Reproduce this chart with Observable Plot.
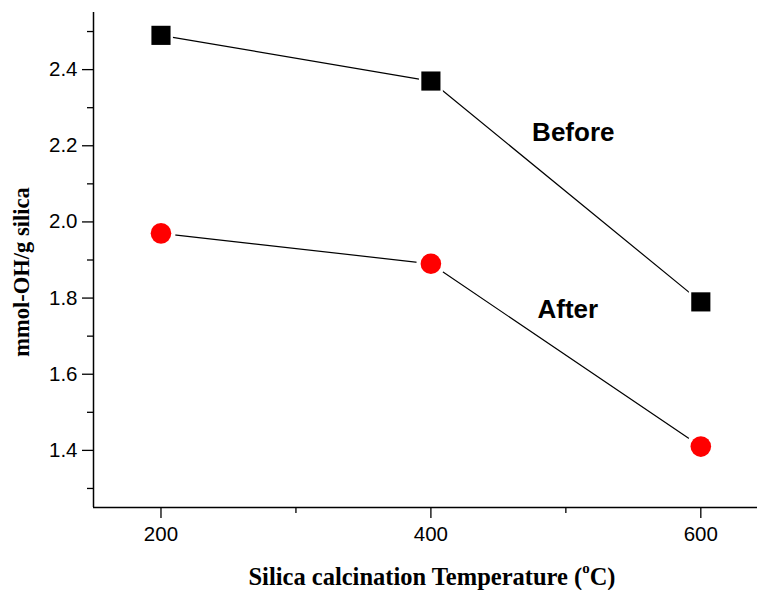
<!DOCTYPE html>
<html>
<head>
<meta charset="utf-8">
<script src="https://cdn.jsdelivr.net/npm/d3@7"></script>
<script src="https://cdn.jsdelivr.net/npm/@observablehq/plot@0.6"></script>
<style>
  html, body { margin: 0; padding: 0; background: #fff; }
</style>
</head>
<body>
<div id="chart"></div>
<script>
const temps = [200, 400, 600];
const before = [2.49, 2.37, 1.79];
const after = [1.97, 1.89, 1.41];
const xMajor = [200, 400, 600];
const xMinor = [300, 500];
const yMajor = [1.4, 1.6, 1.8, 2.0, 2.2, 2.4];
const yMinor = [1.3, 1.5, 1.7, 1.9, 2.1, 2.3, 2.5];
const seriesLabels = ["Before", "After"];
const labelX = [475, 479];
const labelY = [2.235, 1.77];
const xTitle = ["Silica calcination Temperature (", "o", "C)"];
const yTitle = "mmol-OH/g silica";

const dBefore = temps.map((t, i) => ({t, v: before[i]}));
const dAfter = temps.map((t, i) => ({t, v: after[i]}));
const labels = seriesLabels.map((s, i) => ({s, x: labelX[i], y: labelY[i]}));

const chart = Plot.plot({
  width: 757,
  height: 590,
  marginLeft: 93,
  marginTop: 12,
  marginRight: 0,
  marginBottom: 83,
  style: {fontFamily: "Arial, 'Liberation Sans', sans-serif", fontSize: "20px", background: "#fff", color: "#000"},
  x: {domain: [150, 642]},
  y: {domain: [1.25, 2.55]},
  marks: [
    Plot.ruleX([150], {stroke: "#000", strokeWidth: 1.5}),
    Plot.ruleY([1.25], {stroke: "#000", strokeWidth: 1.5}),
    Plot.axisY({ticks: yMajor, tickSize: 11, tickPadding: 5, tickFormat: d3.format(".1f"), label: null, strokeWidth: 1.3, fontSize: 20.5}),
    Plot.axisY({ticks: yMinor, tickSize: 6, tickFormat: () => "", label: null, strokeWidth: 1.3}),
    Plot.axisX({ticks: xMajor, tickSize: 11, tickPadding: 8, tickFormat: d3.format("d"), label: null, strokeWidth: 1.3, fontSize: 20.5}),
    Plot.axisX({ticks: xMinor, tickSize: 6, tickFormat: () => "", label: null, strokeWidth: 1.3}),
    Plot.line(dBefore, {x: "t", y: "v", stroke: "#000", strokeWidth: 1.2}),
    Plot.line(dAfter, {x: "t", y: "v", stroke: "#000", strokeWidth: 1.2}),
    Plot.dot(dBefore, {x: "t", y: "v", symbol: "square", r: 13.5, fill: "#fff", stroke: "none"}),
    Plot.dot(dAfter, {x: "t", y: "v", symbol: "circle", r: 14.5, fill: "#fff", stroke: "none"}),
    Plot.dot(dBefore, {x: "t", y: "v", symbol: "square", r: 10.8, fill: "#000", stroke: "none"}),
    Plot.dot(dAfter, {x: "t", y: "v", symbol: "circle", r: 10.3, fill: "#ff0000", stroke: "none"}),
    Plot.text(labels, {x: "x", y: "y", text: "s", textAnchor: "start", fontSize: 26, fontWeight: "bold", fill: "#000"}),
    Plot.text([yTitle], {frameAnchor: "left", rotate: -90, textAnchor: "middle", dx: -72, dy: 12, fontFamily: "'Liberation Serif', 'Times New Roman', serif", fontWeight: "bold", fontSize: 22.5, fill: "#000"})
  ]
});

const svg = d3.select(chart);
const t = svg.append("text")
  .attr("x", 432)
  .attr("y", 585)
  .attr("text-anchor", "middle")
  .attr("font-family", "'Liberation Serif', 'Times New Roman', serif")
  .attr("font-weight", "bold")
  .attr("font-size", 24.5)
  .attr("fill", "#000");
t.append("tspan").text(xTitle[0]);
t.append("tspan").attr("font-size", 15).attr("dy", -12).text(xTitle[1]);
t.append("tspan").attr("dy", 12).text(xTitle[2]);

document.getElementById("chart").appendChild(chart);
</script>
</body>
</html>
